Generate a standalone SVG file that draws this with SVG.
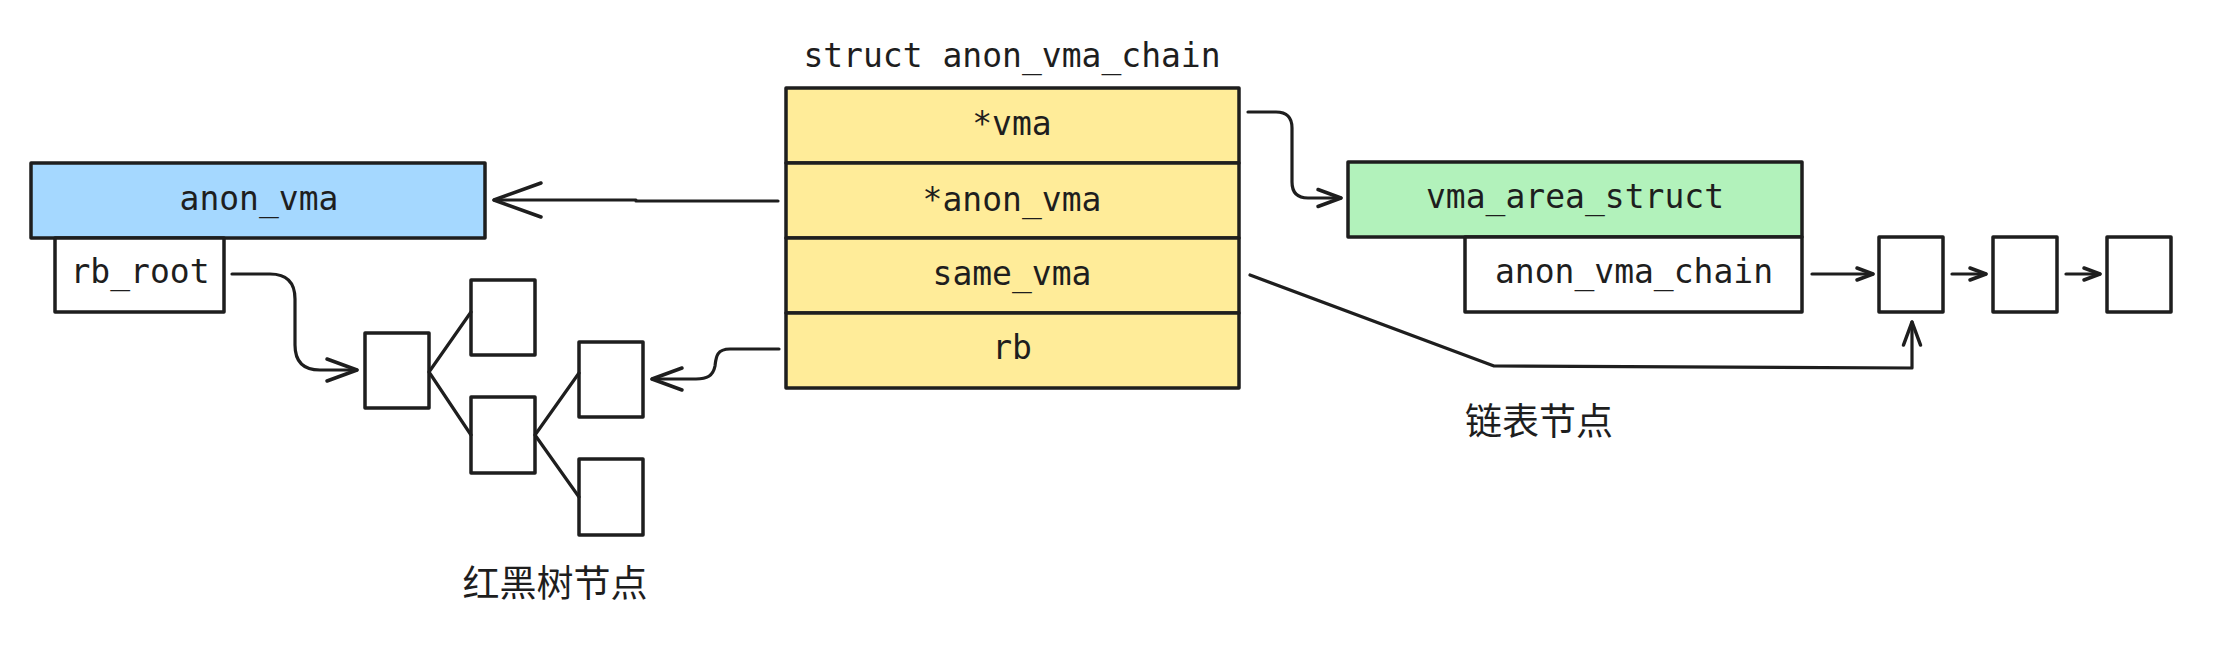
<svg xmlns="http://www.w3.org/2000/svg" width="2233" height="648" viewBox="0 0 2233 648">
<style>
  .box{stroke:#1e1e1e;stroke-width:3.5;stroke-linejoin:round}
  .w{fill:#ffffff}
  .y{fill:#ffec99}
  .b{fill:#a5d8ff}
  .g{fill:#b2f2bb}
  .t{font-family:"DejaVu Sans Mono","Liberation Mono",monospace;font-size:33px;fill:#1e1e1e;text-anchor:middle}
  .cn{font-family:"Noto Sans CJK SC","Noto Sans",sans-serif;font-size:37px;fill:#1e1e1e;text-anchor:middle}
  .ln{fill:none;stroke:#1e1e1e;stroke-width:3.2;stroke-linecap:round;stroke-linejoin:round}
</style>
<defs>
  <marker id="aL" markerUnits="userSpaceOnUse" viewBox="-52 -22 56 44" markerWidth="56" markerHeight="44" refX="0" refY="0" orient="auto" overflow="visible">
    <path d="M-47,-17 L0,0 L-47,17" fill="none" stroke="#1e1e1e" stroke-width="3.5" stroke-linecap="round" stroke-linejoin="round"/>
  </marker>
  <marker id="aM" markerUnits="userSpaceOnUse" viewBox="-34 -14 38 28" markerWidth="38" markerHeight="28" refX="0" refY="0" orient="auto" overflow="visible">
    <path d="M-30,-11 L0,0 L-30,11" fill="none" stroke="#1e1e1e" stroke-width="3.5" stroke-linecap="round" stroke-linejoin="round"/>
  </marker>
  <marker id="aS" markerUnits="userSpaceOnUse" viewBox="-28 -12 32 24" markerWidth="32" markerHeight="24" refX="0" refY="0" orient="auto" overflow="visible">
    <path d="M-23,-8.5 L0,0 L-23,8.5" fill="none" stroke="#1e1e1e" stroke-width="3.5" stroke-linecap="round" stroke-linejoin="round"/>
  </marker>
  <marker id="aX" markerUnits="userSpaceOnUse" viewBox="-20 -10 24 20" markerWidth="24" markerHeight="20" refX="0" refY="0" orient="auto" overflow="visible">
    <path d="M-16,-6 L0,0 L-16,6" fill="none" stroke="#1e1e1e" stroke-width="3.5" stroke-linecap="round" stroke-linejoin="round"/>
  </marker>
</defs>
<rect width="2233" height="648" fill="#ffffff"/>

<text class="t" x="1012" y="67">struct anon_vma_chain</text>

<g id="anon_vma_chain">
  <rect class="box y" x="786" y="88" width="453" height="75"/>
  <text class="t" x="1012" y="135">*vma</text>
  <rect class="box y" x="786" y="163" width="453" height="75"/>
  <text class="t" x="1012" y="211">*anon_vma</text>
  <rect class="box y" x="786" y="238" width="453" height="75"/>
  <text class="t" x="1012" y="285">same_vma</text>
  <rect class="box y" x="786" y="313" width="453" height="75"/>
  <text class="t" x="1012" y="359">rb</text>
</g>

<g id="anon_vma">
  <rect class="box b" x="31" y="163" width="454" height="75"/>
  <text class="t" x="259" y="210">anon_vma</text>
  <rect class="box w" x="55" y="238" width="169" height="74"/>
  <text class="t" x="140" y="283">rb_root</text>
</g>

<g id="vma_area_struct">
  <rect class="box g" x="1348" y="162" width="454" height="75"/>
  <text class="t" x="1575" y="208">vma_area_struct</text>
  <rect class="box w" x="1465" y="237" width="337" height="75"/>
  <text class="t" x="1634" y="283">anon_vma_chain</text>
</g>

<g id="rbtree">
  <rect class="box w" x="365" y="333" width="64" height="75"/>
  <rect class="box w" x="471" y="280" width="64" height="75"/>
  <rect class="box w" x="471" y="397" width="64" height="76"/>
  <rect class="box w" x="579" y="342" width="64" height="75"/>
  <rect class="box w" x="579" y="459" width="64" height="76"/>
  <text class="cn" x="555" y="597">红黑树节点</text>
</g>

<g id="list">
  <rect class="box w" x="1879" y="237" width="64" height="75"/>
  <rect class="box w" x="1993" y="237" width="64" height="75"/>
  <rect class="box w" x="2107" y="237" width="64" height="75"/>
  <text class="cn" x="1539" y="435">链表节点</text>
</g>

<g id="connectors">
  <path class="ln" d="M778,201 L636,201 L636,200 L494,200" marker-end="url(#aL)"/>
  <path class="ln" d="M232,274 L270,274 Q295,274 295,299 L295,345 Q295,370 320,370 L357,370" marker-end="url(#aM)"/>
  <path class="ln" d="M779,349 L730,349 C716,349 716,358 715,366 C713,376 707,379 696,379 L652,379" marker-end="url(#aM)"/>
  <path class="ln" d="M1248,112 L1276,112 Q1292,112 1292,128 L1292,182 Q1292,198 1308,198 L1341,198" marker-end="url(#aS)"/>
  <path class="ln" d="M1250,275 L1494,366 L1912,368 L1912,322" marker-end="url(#aS)"/>
  <path class="ln" d="M1812,274 L1873,274" marker-end="url(#aX)"/>
  <path class="ln" d="M1952,274 L1986,274" marker-end="url(#aX)"/>
  <path class="ln" d="M2066,274 L2100,274" marker-end="url(#aX)"/>
  <path class="ln" d="M429,372 L471,312 M429,372 L471,435 M535,435 L579,373 M535,435 L579,497"/>
</g>
</svg>
